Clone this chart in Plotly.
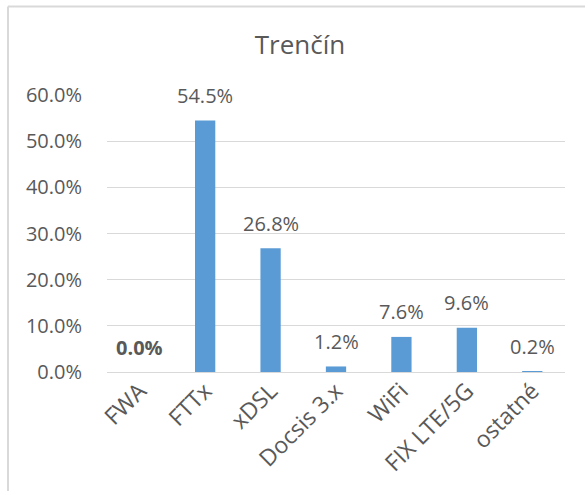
import plotly.graph_objects as go

categories = ["FWA", "FTTx", "xDSL", "Docsis 3.x", "WiFi", "FIX LTE/5G", "ostatné"]
values = [0.0, 0.545, 0.268, 0.012, 0.076, 0.096, 0.002]
labels = ["0.0%", "54.5%", "26.8%", "1.2%", "7.6%", "9.6%", "0.2%"]
bold_flags = [True, False, False, False, False, False, False]
tick_vals = [0, 0.1, 0.2, 0.3, 0.4, 0.5, 0.6]
tick_text = ["0.0%", "10.0%", "20.0%", "30.0%", "40.0%", "50.0%", "60.0%"]
title_text = "Trenčín"

FONT = "Open Sans"
TXT = "#595959"
GRID = "#D9D9D9"

fig = go.Figure()
fig.add_trace(go.Bar(
    x=categories, y=values,
    marker=dict(color="#5B9BD5", line=dict(width=0)),
    width=0.31,
    hoverinfo="skip",
))

for c, v, t, b in zip(categories, values, labels, bold_flags):
    fig.add_annotation(
        x=c, y=v, xref="x", yref="y",
        text=f"<b>{t}</b>" if b else t,
        showarrow=False, yanchor="middle", yshift=25,
        font=dict(family=FONT, size=20, color=TXT),
    )

L, R, T, B = 107, 20, 95, 119
W, H = 585, 491
pw, ph = W - L - R, H - T - B

bx0 = (8 - L) / pw
bx1 = (W - L) / pw
by_top = (H - B - 6.5) / ph
by_bot = -(B / ph)
fig.add_shape(type="line", xref="paper", yref="paper",
              x0=bx0, x1=bx1, y0=by_top, y1=by_top,
              line=dict(color=GRID, width=2), layer="above")
fig.add_shape(type="line", xref="paper", yref="paper",
              x0=bx0, x1=bx0, y0=by_top, y1=by_bot,
              line=dict(color=GRID, width=2), layer="above")

fig.update_layout(
    width=W, height=H,
    margin=dict(l=L, r=R, t=T, b=B, autoexpand=False),
    paper_bgcolor="white", plot_bgcolor="white",
    showlegend=False,
    title=dict(text=title_text, x=300 / W, xref="container", xanchor="center",
               y=1 - 45 / H, yref="container", yanchor="middle",
               font=dict(family=FONT, size=26, color=TXT)),
    font=dict(family=FONT, size=20, color=TXT),
)
fig.update_xaxes(
    tickangle=-45, tickfont=dict(family=FONT, size=23, color=TXT),
    showgrid=False, showline=False, ticks="", automargin=False,
)
fig.update_yaxes(
    range=[0, 0.6], tickvals=tick_vals, ticktext=tick_text,
    showgrid=True, gridcolor=GRID, gridwidth=1.3,
    zeroline=True, zerolinecolor=GRID, zerolinewidth=1.3,
    ticks="outside", ticklen=20, tickcolor="rgba(0,0,0,0)",
    tickfont=dict(family=FONT, size=20, color=TXT), automargin=False,
)

fig.write_html(
    "out.html",
    config={"displayModeBar": False},
    post_script="document.body.style.margin='0';document.body.style.overflow='hidden';",
)
